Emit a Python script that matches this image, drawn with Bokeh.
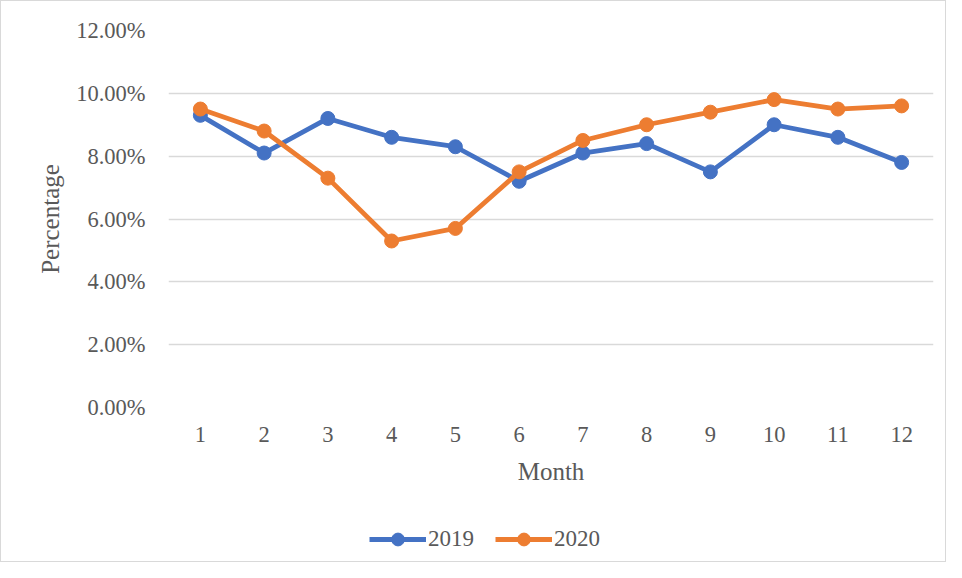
from bokeh.plotting import figure
from bokeh.layouts import column
from bokeh.models import NumeralTickFormatter, FixedTicker, Legend, LegendItem, Range1d
from bokeh.embed import file_html
from bokeh.resources import INLINE

months = [1, 2, 3, 4, 5, 6, 7, 8, 9, 10, 11, 12]
pct_2019 = [0.093, 0.081, 0.092, 0.086, 0.083, 0.072, 0.081, 0.084, 0.075, 0.090, 0.086, 0.078]
pct_2020 = [0.095, 0.088, 0.073, 0.053, 0.057, 0.075, 0.085, 0.090, 0.094, 0.098, 0.095, 0.096]
y_ticks = [0.0, 0.02, 0.04, 0.06, 0.08, 0.10, 0.12]
series_names = ["2019", "2020"]

BLUE = "#4472C4"
ORANGE = "#ED7D31"
GREY = "#595959"
FONT = "Liberation Serif"

p = figure(width=944, height=498, output_backend="svg", toolbar_location=None,
           x_range=Range1d(0.5, 12.5), y_range=Range1d(0, 0.12),
           min_border_left=167, min_border_right=12, min_border_top=29, min_border_bottom=92)
p.outline_line_color = None

p.line(months, pct_2019, line_color=BLUE, line_width=4.8)
p.scatter(months, pct_2019, size=14, fill_color=BLUE, line_color=BLUE)
p.line(months, pct_2020, line_color=ORANGE, line_width=4.8)
p.scatter(months, pct_2020, size=14, fill_color=ORANGE, line_color=ORANGE)

p.xaxis.ticker = FixedTicker(ticks=months)
p.yaxis.ticker = FixedTicker(ticks=y_ticks)
p.yaxis.formatter = NumeralTickFormatter(format="0.00%")

for ax in (p.xaxis, p.yaxis):
    ax.axis_line_color = None
    ax.major_tick_line_color = None
    ax.minor_tick_line_color = None
    ax.major_label_text_font = FONT
    ax.major_label_text_font_size = "22.5px"
    ax.major_label_text_color = GREY
    ax.axis_label_text_font = FONT
    ax.axis_label_text_font_size = "25px"
    ax.axis_label_text_color = GREY
    ax.axis_label_text_font_style = "normal"

p.xaxis.axis_label = "Month"
p.yaxis.axis_label = "Percentage"
p.yaxis.major_label_standoff = 17
p.xaxis.major_label_standoff = 13
p.xaxis.axis_label_standoff = 13
p.yaxis.axis_label_standoff = 9

p.xgrid.grid_line_color = None
p.ygrid.grid_line_color = "#d9d9d9"
p.ygrid.grid_line_width = 1.3

# legend strip below the chart: same series styling, drawn by Bokeh's Legend.
# Its ranges lie outside the data, so the series themselves are not shown here.
pl = figure(width=944, height=62, output_backend="svg", toolbar_location=None,
            x_range=Range1d(100, 101), y_range=Range1d(100, 101),
            x_axis_location=None, y_axis_location=None, min_border=0)
pl.outline_line_color = None
pl.grid.visible = False
ll1 = pl.line(months, pct_2019, line_color=BLUE, line_width=4.8)
lc1 = pl.scatter(months, pct_2019, size=14, fill_color=BLUE, line_color=BLUE)
ll2 = pl.line(months, pct_2020, line_color=ORANGE, line_width=4.8)
lc2 = pl.scatter(months, pct_2020, size=14, fill_color=ORANGE, line_color=ORANGE)

legend = Legend(items=[LegendItem(label=series_names[0], renderers=[ll1, lc1]),
                       LegendItem(label=series_names[1], renderers=[ll2, lc2])],
                orientation="horizontal", location=(201, 6))
legend.border_line_color = None
legend.background_fill_alpha = 0
legend.label_text_font = FONT
legend.label_text_font_size = "23px"
legend.label_text_color = GREY
legend.label_height = 32
legend.glyph_width = 57
legend.glyph_height = 32
legend.label_standoff = 2
legend.spacing = 21
legend.padding = 0
legend.margin = 0
pl.add_layout(legend, "center")

layout = column(p, pl, spacing=0)
layout.styles = {"border": "1px solid #d9d9d9"}

open("out.html", "w").write(file_html(layout, INLINE))
